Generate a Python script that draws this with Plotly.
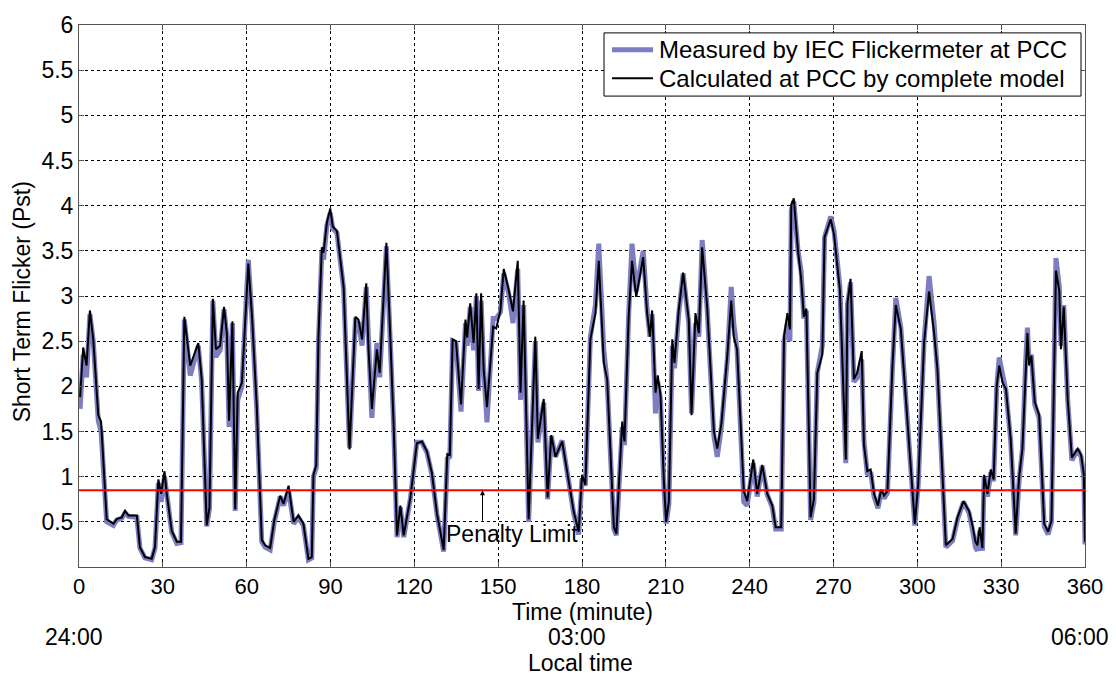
import plotly.graph_objects as go

# Time axis in minutes after midnight (24:00 -> 06:00)
minutes = [
    0.4, 1.5, 2.7, 3.9, 5.1, 6.3, 6.9, 7.9, 9.3, 9.9, 12.3, 13.5, 15.3, 16.5, 17.7, 20.7,
    21.8, 23.6, 26.0, 27.2, 28.4, 29.4, 30.6, 31.4, 33.2, 35.0, 36.5, 37.7, 39.8, 42.7,
    43.9, 45.7, 46.7, 47.9, 49.0, 50.5, 51.9, 52.9, 53.7, 54.9, 55.9, 56.8, 58.3, 59.5,
    60.6, 61.9, 63.6, 65.4, 66.6, 68.4, 69.9, 72.0, 73.2, 75.0, 76.8, 78.5, 80.3, 82.1,
    83.3, 83.9, 84.9, 85.7, 86.9, 87.5, 88.7, 89.9, 90.8, 92.3, 94.7, 96.8, 98.9, 100.0,
    101.3, 102.8, 103.6, 104.8, 106.6, 107.6, 110.0, 111.4, 112.6, 113.8, 115.0, 116.2,
    118.6, 120.9, 122.7, 124.5, 126.3, 128.1, 130.5, 131.8, 132.7, 133.7, 134.9, 136.7,
    138.3, 138.9, 140.0, 141.2, 142.2, 143.0, 143.9, 144.8, 146.0, 148.2, 149.3, 150.8,
    152.0, 153.8, 155.3, 157.0, 158.0, 159.1, 160.9, 163.3, 164.2, 166.3, 167.7, 169.0,
    170.5, 172.9, 175.3, 177.0, 178.8, 180.0, 181.2, 183.0, 184.8, 186.0, 187.8, 189.0,
    191.4, 192.3, 194.4, 195.2, 196.7, 197.9, 199.4, 201.9, 203.3, 204.3, 205.1, 206.3,
    207.1, 208.1, 209.3, 210.1, 211.1, 212.3, 213.1, 214.6, 216.2, 218.2, 219.2, 220.6,
    221.8, 223.0, 224.8, 227.2, 228.4, 229.9, 232.0, 233.4, 234.3, 235.5, 237.9, 239.1,
    241.3, 242.7, 244.5, 246.3, 248.1, 249.3, 251.3, 252.3, 253.5, 254.4, 254.9, 255.8,
    257.3, 258.4, 259.4, 260.3, 261.8, 263.0, 264.2, 266.0, 266.8, 269.0, 270.2, 272.3,
    274.4, 275.0, 276.1, 277.3, 278.5, 280.1, 280.9, 282.1, 283.3, 284.5, 285.9, 287.1,
    288.1, 289.3, 291.1, 292.3, 294.1, 296.5, 299.1, 300.3, 302.4, 304.2, 306.0, 307.2,
    310.2, 312.6, 314.4, 316.5, 318.5, 319.8, 320.8, 321.5, 322.3, 323.3, 323.9, 325.1,
    326.3, 327.3, 328.4, 329.3, 330.5, 331.7, 333.4, 335.2, 336.4, 337.6, 338.8, 339.4,
    340.0, 340.8, 342.0, 343.6, 345.4, 346.8, 348.0, 348.8, 349.6, 350.8, 351.4, 352.4,
    353.8, 355.3, 357.4, 358.6, 359.6, 360.0,
]

# Pst calculated at PCC by the complete model
pst_calc = [
    1.88, 2.43, 2.23, 2.84, 2.52, 1.97, 1.68, 1.61, 0.77, 0.53, 0.48, 0.53, 0.55, 0.62, 0.57, 0.57,
    0.22, 0.11, 0.09, 0.22, 0.97, 0.81, 1.06, 0.81, 0.40, 0.28, 0.28, 2.77, 2.23, 2.48,
    2.08, 0.46, 0.66, 2.97, 2.41, 2.45, 2.88, 2.59, 1.62, 2.72, 0.64, 1.93, 2.04, 2.77,
    3.36, 2.78, 1.79, 0.30, 0.24, 0.21, 0.52, 0.79, 0.70, 0.90, 0.50, 0.57, 0.48, 0.09,
    0.11, 1.02, 1.13, 2.55, 3.54, 3.48, 3.81, 3.97, 3.77, 3.72, 3.10, 1.30, 2.77, 2.74,
    2.52, 3.14, 2.41, 1.75, 2.41, 2.15, 3.59, 2.55, 1.57, 0.35, 0.68, 0.35,
    0.77, 1.37, 1.39, 1.28, 1.04, 0.59, 0.19, 1.25, 1.24, 2.52, 2.50, 1.80,
    2.74, 2.54, 2.92, 2.48, 3.03, 1.97, 3.03, 2.19, 1.77, 2.66, 2.64, 2.84,
    3.30, 3.06, 2.83, 3.39, 1.93, 2.95, 0.53, 2.55, 1.42, 1.86, 0.77, 1.46,
    1.22, 1.39, 0.95, 0.62, 0.39, 1.02, 0.91, 2.52, 2.81, 3.39, 2.26, 2.08,
    0.44, 0.37, 1.61, 1.39, 2.77, 3.39, 2.99, 3.43, 2.81, 2.55, 2.84, 1.93,
    2.12, 1.90, 0.95, 0.50, 0.73, 2.52, 2.26, 2.84, 3.26, 2.74, 1.68, 2.81,
    2.59, 3.54, 2.88, 1.50, 1.31, 1.59, 2.34, 2.95, 2.55, 2.41, 0.84, 0.73,
    1.19, 0.81, 1.13, 0.81, 0.68, 0.44, 0.44, 2.55, 2.81, 2.63, 4.01, 4.08,
    3.50, 3.20, 2.77, 2.86, 0.55, 0.75, 2.15, 2.35, 3.65, 3.85, 3.68, 3.06,
    1.19, 2.92, 3.19, 2.08, 2.15, 2.39, 1.35, 1.06, 1.08, 0.81, 0.68, 0.86,
    0.79, 0.84, 2.23, 2.90, 2.63, 1.61, 0.48, 0.91, 2.48, 3.05, 2.59, 2.19,
    0.24, 0.31, 0.55, 0.73, 0.62, 0.45, 0.28, 0.24, 0.44, 0.21, 1.02, 0.81,
    1.08, 0.97, 2.00, 2.23, 2.04, 1.97, 1.42, 0.37, 0.99, 1.31, 2.26, 2.59,
    2.23, 2.34, 1.83, 1.68, 0.48, 0.39, 0.51, 2.15, 3.28, 3.06, 2.41, 2.88,
    1.86, 1.21, 1.31, 1.24, 1.02, 0.28,
]

# Pst measured by the IEC flickermeter at PCC
pst_meas = [
    1.75, 2.35, 2.10, 2.80, 2.50, 1.95, 1.62, 1.50, 0.75, 0.50, 0.46, 0.52, 0.54, 0.60, 0.56, 0.55,
    0.21, 0.10, 0.08, 0.21, 0.93, 0.72, 1.00, 0.79, 0.38, 0.26, 0.27, 2.74, 2.12, 2.45,
    2.05, 0.45, 0.65, 2.95, 2.33, 2.40, 2.85, 2.55, 1.55, 2.70, 0.62, 1.85, 2.00, 2.75,
    3.40, 2.75, 1.75, 0.28, 0.22, 0.19, 0.50, 0.78, 0.68, 0.85, 0.48, 0.55, 0.46, 0.08,
    0.10, 1.00, 1.10, 2.50, 3.50, 3.40, 3.78, 3.92, 3.75, 3.70, 3.08, 1.32, 2.72, 2.70,
    2.45, 3.10, 2.38, 1.65, 2.48, 2.10, 3.55, 2.55, 1.57, 0.33, 0.66, 0.33,
    0.76, 1.38, 1.38, 1.27, 1.02, 0.58, 0.17, 1.20, 1.22, 2.50, 2.48, 1.72,
    2.70, 2.45, 2.88, 2.40, 3.00, 1.95, 2.95, 2.20, 1.60, 2.75, 2.75, 2.82,
    3.25, 3.02, 2.70, 3.30, 1.85, 2.90, 0.50, 2.50, 1.38, 1.82, 0.75, 1.45,
    1.22, 1.40, 0.93, 0.60, 0.36, 0.98, 0.90, 2.55, 2.90, 3.58, 2.40, 2.05,
    0.42, 0.35, 1.55, 1.35, 2.80, 3.58, 3.05, 3.50, 2.85, 2.55, 2.80, 1.70,
    2.05, 1.85, 0.90, 0.48, 0.70, 2.45, 2.20, 2.80, 3.25, 2.70, 1.70, 2.70,
    2.55, 3.62, 2.85, 1.45, 1.22, 1.55, 2.30, 3.10, 2.70, 2.40, 0.72, 0.68,
    1.15, 0.78, 1.12, 0.80, 0.66, 0.42, 0.42, 2.50, 2.70, 2.50, 3.95, 4.05,
    3.50, 3.28, 2.75, 2.84, 0.52, 0.72, 2.15, 2.45, 3.65, 3.88, 3.72, 3.10,
    1.15, 2.90, 3.15, 2.05, 2.10, 2.30, 1.40, 1.02, 1.05, 0.78, 0.65, 0.84,
    0.76, 0.82, 2.20, 2.98, 2.65, 1.60, 0.46, 0.90, 2.50, 3.22, 2.70, 2.15,
    0.22, 0.29, 0.53, 0.72, 0.60, 0.40, 0.22, 0.18, 0.40, 0.18, 1.00, 0.78,
    1.05, 0.95, 2.00, 2.32, 2.10, 1.95, 1.40, 0.35, 0.95, 1.30, 2.30, 2.65,
    2.25, 2.35, 1.80, 1.65, 0.45, 0.36, 0.50, 2.15, 3.42, 3.10, 2.45, 2.90,
    1.85, 1.18, 1.30, 1.22, 1.00, 0.25,
]

PENALTY_LIMIT = 0.85
x_ticks = list(range(0, 361, 30))
y_ticks = [0.5, 1, 1.5, 2, 2.5, 3, 3.5, 4, 4.5, 5, 5.5, 6]
y_tick_text = ["0.5", "1", "1.5", "2", "2.5", "3", "3.5", "4", "4.5", "5", "5.5", "6"]
local_times = ["24:00", "03:00", "06:00"]
local_time_minutes = [0, 180, 360]
series_names = ["Measured by IEC Flickermeter at PCC", "Calculated at PCC by complete model"]

FONT = "Liberation Sans, Arial, sans-serif"
FS = 23
AXIS_COLOR = "#555555"
MEAS_COLOR = "rgb(125,125,195)"

# plot area in pixels, used to place the boxed key in paper units
L, R, T, B = 79, 1085, 18, 567


def px_x(px):
    return (px - L) / (R - L)


def px_y(py):
    return (B - py) / (B - T)


fig = go.Figure()

fig.add_trace(go.Scatter(
    x=minutes, y=pst_meas, mode="lines", name=series_names[0],
    line=dict(color=MEAS_COLOR, width=5), showlegend=False,
))
fig.add_trace(go.Scatter(
    x=minutes, y=pst_calc, mode="lines", name=series_names[1],
    line=dict(color="black", width=2), showlegend=False,
))
# Penalty limit line
fig.add_trace(go.Scatter(
    x=[0, 360], y=[PENALTY_LIMIT, PENALTY_LIMIT], mode="lines",
    line=dict(color="#ff0000", width=2), showlegend=False, hoverinfo="skip",
))

fig.update_xaxes(
    range=[0, 360], tickvals=x_ticks, ticktext=[str(v) for v in x_ticks],
    showgrid=True, gridcolor="black", gridwidth=1, griddash="dot",
    showline=True, linecolor=AXIS_COLOR, linewidth=1, mirror="ticks",
    ticks="inside", ticklen=5, tickcolor=AXIS_COLOR,
    zeroline=False, tickfont=dict(family=FONT, size=22, color="black"),
)
fig.update_yaxes(
    range=[0, 6], tickvals=y_ticks, ticktext=y_tick_text,
    showgrid=True, gridcolor="black", gridwidth=1, griddash="dot",
    showline=True, linecolor=AXIS_COLOR, linewidth=1, mirror="ticks",
    ticks="inside", ticklen=5, tickcolor=AXIS_COLOR,
    zeroline=False, tickfont=dict(family=FONT, size=FS, color="black"),
)

annotations = [
    # arrow pointing at the limit line
    dict(x=144.4, y=PENALTY_LIMIT, ax=144.4, ay=0.495, xref="x", yref="y",
         axref="x", ayref="y", text="", showarrow=True, arrowhead=2,
         arrowsize=1, arrowwidth=1, arrowcolor="black"),
    dict(x=155, y=0.37, xref="x", yref="y", text="Penalty Limit",
         showarrow=False, font=dict(family=FONT, size=FS, color="black")),
    dict(x=180, y=0, xref="x", yref="paper", yshift=-45, text="Time (minute)",
         showarrow=False, yanchor="middle",
         font=dict(family=FONT, size=FS, color="black")),
    dict(x=180, y=0, xref="x", yref="paper", yshift=-96, xshift=-2,
         text="Local time", showarrow=False, yanchor="middle",
         font=dict(family=FONT, size=FS, color="black")),
    dict(x=0, y=2.93, xref="paper", yref="y", xshift=-57,
         text="Short Term Flicker (Pst)", textangle=-90, showarrow=False,
         xanchor="center", yanchor="middle",
         font=dict(family=FONT, size=FS, color="black")),
]
for t, m in zip(local_times, local_time_minutes):
    annotations.append(dict(
        x=m, y=0, xref="x", yref="paper", yshift=-70, xshift=-5, text=t,
        showarrow=False, yanchor="middle",
        font=dict(family=FONT, size=FS, color="black"),
    ))

# Boxed key in the upper right corner
key_rows = [(43, MEAS_COLOR, 5), (72, "black", 2)]
shapes = [dict(
    type="rect", xref="paper", yref="paper",
    x0=px_x(604), x1=px_x(1081), y0=px_y(90), y1=px_y(26),
    line=dict(color="black", width=1), fillcolor="white", layer="above",
)]
for (row_y, color, width), name in zip(key_rows, series_names):
    shapes.append(dict(
        type="line", xref="paper", yref="paper",
        x0=px_x(612), x1=px_x(653), y0=px_y(row_y), y1=px_y(row_y),
        line=dict(color=color, width=width), layer="above",
    ))
    annotations.append(dict(
        x=px_x(657), y=px_y(row_y), xref="paper", yref="paper", text=name,
        showarrow=False, xanchor="left", yanchor="middle",
        font=dict(family=FONT, size=24, color="black"),
    ))

fig.update_layout(
    width=1116, height=675,
    margin=dict(l=L, r=1116 - R, t=T, b=675 - B),
    plot_bgcolor="white", paper_bgcolor="white",
    font=dict(family=FONT, size=FS, color="black"),
    annotations=annotations,
    shapes=shapes,
    showlegend=False,
)

fig.write_html("out.html")
